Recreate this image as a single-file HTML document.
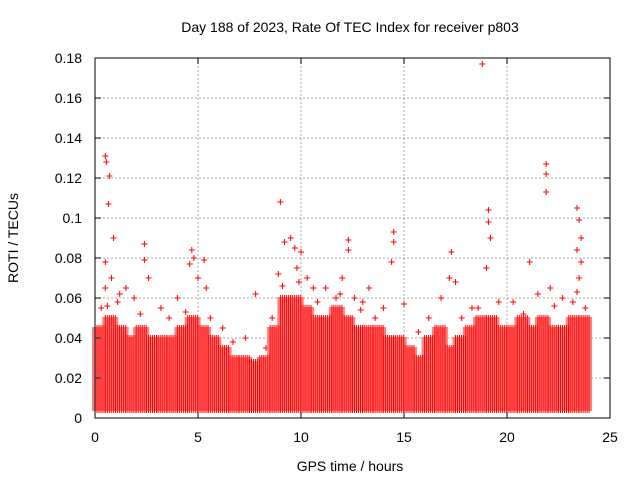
<!DOCTYPE html>
<html><head><meta charset="utf-8"><style>
body{margin:0;background:#fff}
svg text{font-family:"Liberation Sans",sans-serif;font-size:14px;fill:#000}
</style></head><body>
<svg id="chart" width="640" height="480">
<text x="350" y="32" text-anchor="middle">Day 188 of 2023, Rate Of TEC Index for receiver p803</text>
<text x="350" y="471" text-anchor="middle">GPS time / hours</text>
<text transform="translate(18,238) rotate(-90)" text-anchor="middle">ROTI / TECUs</text>
<g id="grid"></g>
<g id="marks"></g>
<rect x="95" y="58" width="515" height="360" fill="none" stroke="#000"/>
<g id="ticks"></g>
</svg>
<script>
const xTicks=[0,5,10,15,20,25];
const yTicks=[0,0.02,0.04,0.06,0.08,0.1,0.12,0.14,0.16,0.18];
const yTickLabels=["0","0.02","0.04","0.06","0.08","0.1","0.12","0.14","0.16","0.18"];
const binStarts=[0,0.5,1,1.5,2,2.5,3,3.5,4,4.5,5,5.5,6,6.5,7,7.5,8,8.5,9,9.5,10,10.5,11,11.5,12,12.5,13,13.5,14,14.5,15,15.5,16,16.5,17,17.5,18,18.5,19,19.5,20,20.5,21,21.5,22,22.5,23,23.5];
const binTop=[0.045,0.05,0.045,0.04,0.045,0.04,0.04,0.04,0.045,0.05,0.045,0.04,0.035,0.03,0.03,0.028,0.03,0.045,0.06,0.06,0.055,0.05,0.05,0.055,0.05,0.045,0.045,0.045,0.04,0.04,0.035,0.03,0.04,0.045,0.035,0.04,0.045,0.05,0.05,0.045,0.045,0.05,0.045,0.05,0.045,0.045,0.05,0.05];
const binLow=0.004;
const outX=[0.5,0.55,0.7,0.65,0.9,0.5,0.5,0.8,1.2,1.5,1.9,2.4,2.4,2.6,3.2,4.0,4.6,4.7,4.8,5.0,5.4,5.3,7.8,8.9,9.0,9.2,9.5,9.7,10.0,9.8,10.3,11.2,12.0,12.3,12.3,13.3,14.5,14.5,14.4,15,17.3,17.5,17.2,18.8,19.1,19.1,19.2,19.0,21.1,21.9,21.9,21.9,22.1,23.4,23.5,23.6,23.4,23.6,23.5,23.4,0.3,1.1,3.6,6.2,7.3,8.3,11.7,13.0,14.0,16.2,16.8,18.3,20.3,21.5,22.7,10.6,12.6,0.6,2.2,4.4,5.6,9.1,9.9,10.8,11.9,12.9,13.6,15.7,17.8,18.6,19.6,20.8,22.3,23.2,23.8,6.7,8.6];
const outY=[0.131,0.128,0.121,0.107,0.09,0.078,0.065,0.07,0.062,0.065,0.06,0.087,0.079,0.07,0.055,0.06,0.077,0.084,0.08,0.07,0.065,0.079,0.062,0.072,0.108,0.088,0.09,0.085,0.083,0.075,0.07,0.065,0.07,0.089,0.084,0.065,0.093,0.088,0.078,0.057,0.083,0.068,0.07,0.177,0.104,0.098,0.09,0.075,0.078,0.122,0.127,0.113,0.065,0.105,0.099,0.09,0.084,0.078,0.07,0.063,0.055,0.058,0.05,0.045,0.04,0.035,0.06,0.058,0.055,0.05,0.06,0.055,0.058,0.062,0.06,0.065,0.06,0.056,0.052,0.053,0.05,0.066,0.068,0.058,0.062,0.054,0.05,0.043,0.05,0.055,0.058,0.052,0.056,0.058,0.055,0.038,0.05];
const X=v=>95+v*515/25, Y=v=>418-v*360/0.18;
const NS="http://www.w3.org/2000/svg";
const grid=document.getElementById('grid'),ticks=document.getElementById('ticks'),marks=document.getElementById('marks');
let gd="",td="";
xTicks.forEach((t,i)=>{const x=X(t);if(i>0&&i<xTicks.length-1)gd+=`M${x} 58V418`;td+=`M${x} 418v-6M${x} 58v6`;
const tx=document.createElementNS(NS,'text');tx.setAttribute('x',x);tx.setAttribute('y',442);tx.setAttribute('text-anchor','middle');tx.textContent=t;


ticks.appendChild(tx);});
yTicks.forEach((t,i)=>{const y=Y(t);if(i>0&&i<yTicks.length-1)gd+=`M95 ${y}H610`;td+=`M95 ${y}h6M610 ${y}h-6`;
const tx=document.createElementNS(NS,'text');tx.setAttribute('x',82);tx.setAttribute('y',y+5);tx.setAttribute('text-anchor','end');tx.textContent=yTickLabels[i];


ticks.appendChild(tx);});
const gp=document.createElementNS(NS,'path');gp.setAttribute('d',gd);gp.setAttribute('stroke','#aaa');gp.setAttribute('stroke-dasharray','2,2');gp.setAttribute('fill','none');


grid.appendChild(gp);
const tp=document.createElementNS(NS,'path');tp.setAttribute('d',td);tp.setAttribute('stroke','#000');


ticks.appendChild(tp);
function plus(x,y){return `M${x-3} ${y}h6M${x} ${y-3}v6`;}
let d="";
binStarts.forEach((b,i)=>{const x0=X(b),x1=X(b+0.5),yl=Y(binLow),yt=Y(binTop[i]);
for(let x=x0;x<x1;x+=2){for(let y=yl;y>=yt;y-=2){d+=plus(x,y);}}});
outX.forEach((v,i)=>{d+=plus(X(v),Y(outY[i]));});
const mp=document.createElementNS(NS,'path');mp.setAttribute('d',d);mp.setAttribute('stroke','#f00');mp.setAttribute('fill','none');


marks.appendChild(mp);
</script>
</body></html>
